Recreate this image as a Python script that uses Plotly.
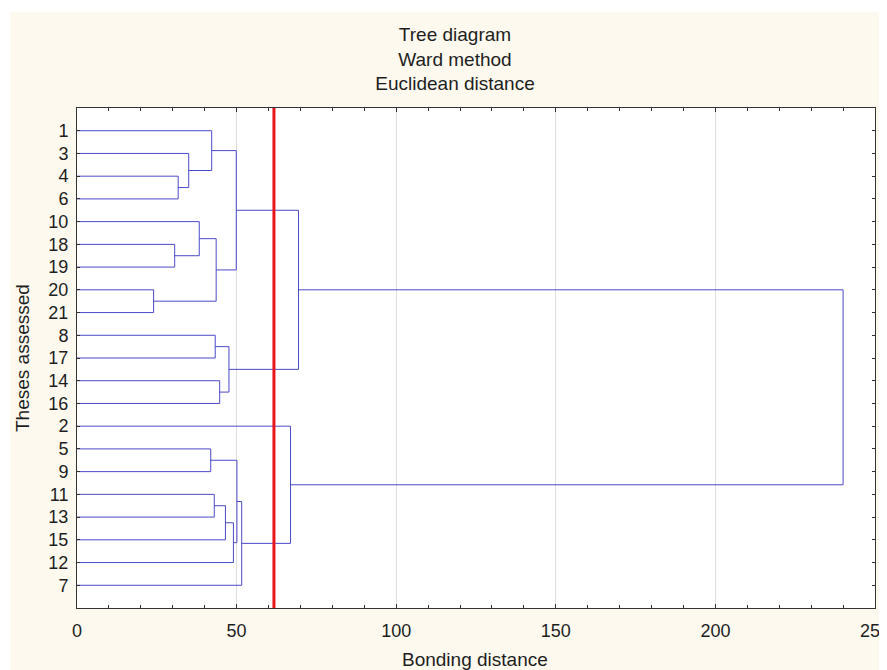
import plotly.graph_objects as go

# ---- data ----
leaf_labels = ["1", "3", "4", "6", "10", "18", "19", "20", "21", "8", "17",
               "14", "16", "2", "5", "9", "11", "13", "15", "12", "7"]
# merges: (left child, right child, bonding distance); child is a leaf label or a merge index
merge_left = ["4", "3", "1", "18", "10", "20", 4, 2, "8", "14", 8, 7,
              "5", "11", 13, 14, 12, 16, "2", 11]
merge_right = ["6", 0, 1, "19", 3, "21", 5, 6, "17", "16", 9, 10,
               "9", "13", "15", "12", 15, "7", 17, 18]
merge_height = [31.7, 35.0, 42.2, 30.6, 38.3, 24.0, 43.6, 49.9, 43.3, 44.7, 47.6, 69.4,
                41.9, 43.0, 46.5, 49.0, 50.1, 51.6, 66.9, 240.0]
cut_distance = 61.7
x_ticks = [0, 50, 100, 150, 200, 250]

# ---- build dendrogram segments ----
leaf_pos = {lab: i + 1 for i, lab in enumerate(leaf_labels)}
node_pos = []
node_h = []
xs, ys = [], []


def child_info(c):
    if isinstance(c, str):
        return leaf_pos[c], 0.0
    return node_pos[c], node_h[c]


for a, b, h in zip(merge_left, merge_right, merge_height):
    ya, ha = child_info(a)
    yb, hb = child_info(b)
    xs += [ha, h, h, hb, None]
    ys += [ya, ya, yb, yb, None]
    node_pos.append((ya + yb) / 2)
    node_h.append(h)

FONT = "Liberation Sans, Arial, sans-serif"
TXT = "#1e1e1e"
CREAM = "#fdf9ee"

fig = go.Figure()
fig.add_trace(go.Scatter(x=xs, y=ys, mode="lines",
                         line=dict(color="#4a4ac8", width=1),
                         hoverinfo="skip", showlegend=False))

OFF = 8  # page body margin
W, H = 887 - OFF, 670 - OFF
L, T = 77 - OFF, 108 - OFF
R = W - (875 - OFF)
B = H - (608 - OFF)
pw, ph = W - L - R, H - T - B


def px_x(p):  # window pixel -> paper x
    return (p - OFF - L) / pw


def px_y(p):  # window pixel -> paper y
    return (H - B - (p - OFF)) / ph


fig.update_layout(
    width=W, height=H,
    margin=dict(l=L, r=R, t=T, b=B, autoexpand=False),
    paper_bgcolor="white",
    plot_bgcolor="white",
    font=dict(family=FONT, size=18, color=TXT),
    title=dict(text="Tree diagram<br>Ward method<br>Euclidean distance",
               x=(455 - OFF) / W, xanchor="center", xref="container",
               y=1 - (41 - OFF) / H, yanchor="middle", yref="container",
               font=dict(family=FONT, size=19, color=TXT)),
    showlegend=False,
    shapes=[
        dict(type="rect", xref="paper", yref="paper", layer="below",
             x0=px_x(10), x1=px_x(900), y0=px_y(12), y1=px_y(700),
             fillcolor=CREAM, line=dict(width=0)),
        dict(type="rect", xref="paper", yref="paper", layer="below",
             x0=0, x1=1, y0=0, y1=1, fillcolor="white", line=dict(width=0)),
        dict(type="line", xref="x", yref="paper", x0=cut_distance, x1=cut_distance,
             y0=0, y1=1, line=dict(color="#e8141c", width=3)),
    ],
    annotations=[
        dict(text="Bonding distance", xref="paper", yref="paper",
             x=px_x(475), y=px_y(659), xanchor="center", yanchor="middle",
             showarrow=False, font=dict(family=FONT, size=19, color=TXT)),
        dict(text="Theses assessed", xref="paper", yref="paper",
             x=px_x(22), y=0.5, xanchor="center", yanchor="middle",
             textangle=-90, showarrow=False,
             font=dict(family=FONT, size=19, color=TXT)),
    ],
)

fig.update_xaxes(
    range=[0, 250], tickvals=x_ticks, ticktext=[str(v) for v in x_ticks],
    ticks="inside", ticklen=4, tickcolor="#333", tickwidth=1,
    minor=dict(dtick=10, tick0=0, ticks="inside", ticklen=3, tickcolor="#333", showgrid=False),
    showline=True, linecolor="#333", linewidth=1, mirror="allticks",
    showgrid=True, gridcolor="#dedede", gridwidth=1, zeroline=False,
    ticklabeloverflow="allow", ticklabelstandoff=6, automargin=False,
    tickfont=dict(family=FONT, size=18, color=TXT),
)
fig.update_yaxes(
    range=[22, 0], tickvals=list(range(1, len(leaf_labels) + 1)), ticktext=leaf_labels,
    ticks="inside", ticklen=3, tickcolor="#333", tickwidth=1,
    showline=True, linecolor="#333", linewidth=1, mirror="allticks",
    showgrid=False, zeroline=False, ticklabelstandoff=4, automargin=False,
    tickfont=dict(family=FONT, size=18, color=TXT),
)

fig.write_html("out.html")
